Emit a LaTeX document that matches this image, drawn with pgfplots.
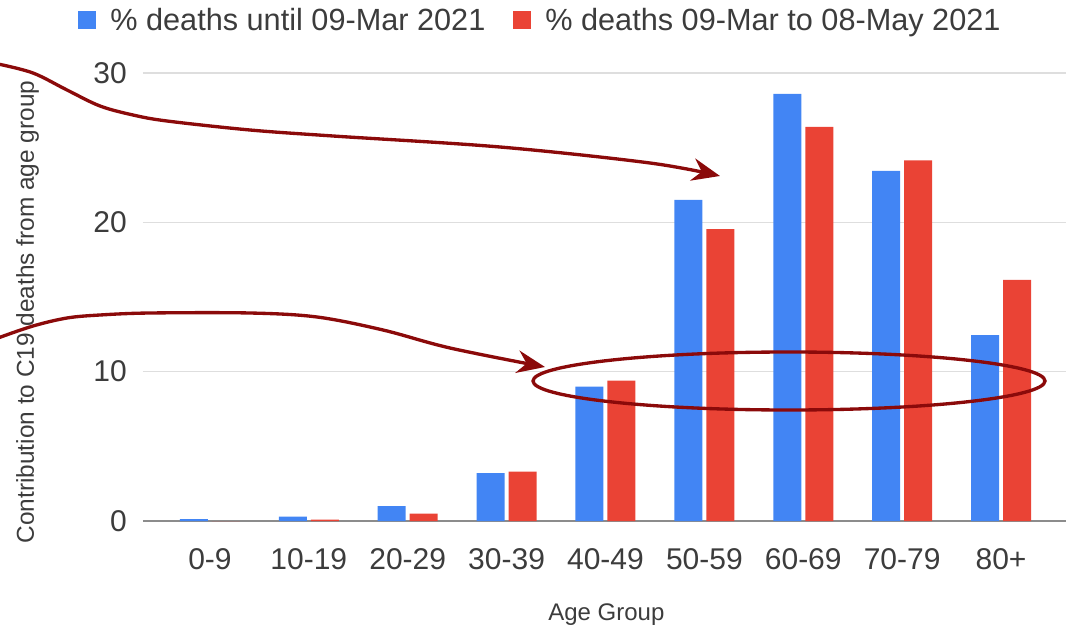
\documentclass[border=0pt]{standalone}
\usepackage{fontspec}
\setmainfont{Liberation Sans}
\usepackage{pgfplots}
\pgfplotsset{compat=1.18}
\usetikzlibrary{arrows.meta}
\definecolor{gblue}{HTML}{4285F4}
\definecolor{gred}{HTML}{EA4335}
\definecolor{txt}{HTML}{3C3C3C}
\definecolor{annot}{HTML}{8B0A0A}
\begin{document}
\begin{tikzpicture}
\begin{axis}[
    at={(0,0)}, anchor=south west,
    scale only axis,
    width=692.25pt, height=336pt,
    ybar=3pt, bar width=21pt,
    xmin=-0.677, xmax=8.657,
    ymin=0, ymax=30,
    xtick=data,
    xticklabels={0-9,10-19,20-29,30-39,40-49,50-59,60-69,70-79,80+},
    ytick={10,20,30},
    extra y ticks={0},
    extra y tick labels={0},
    extra y tick style={grid style={draw=black!45, line width=1.5pt}},
    ymajorgrids,
    grid style={draw=black!13, line width=1pt},
    axis line style={draw=none},
    tick style={draw=none},
    /pgf/number format/assume math mode=true,
    ticklabel style={font=\fontsize{22.5}{26}\selectfont, text=txt},
    yticklabel style={anchor=east, inner sep=0pt, xshift=-12pt},
    xticklabel style={anchor=north, inner sep=0pt, yshift=-16.5pt},
    xlabel={Age Group},
    ylabel={Contribution to C19 deaths from age group},
    xlabel style={font=\fontsize{18}{21}\selectfont, text=txt, at={(axis description cs:0.502,-0.21)}, anchor=center},
    ylabel style={font=\fontsize{18.3}{21}\selectfont, text=txt, at={(axis description cs:-0.125,0.4665)}, anchor=center},
    legend columns=-1,
    legend style={at={(0.4295,1.118)}, anchor=center, draw=none, fill=none, inner sep=0pt,
        font=\fontsize{23}{26}\selectfont, text=txt,
        nodes={inner sep=0pt, anchor=west},
        /tikz/every even column/.append style={column sep=21pt}},
    legend image code/.code={
        \fill[#1, draw=none] (0pt,-6.75pt) rectangle (13.5pt,6.75pt);
        \path (24pt,0pt);
    },
]
\addplot[fill=gblue, draw=none] coordinates {
    (0,0.13) (1,0.3) (2,1.0) (3,3.2) (4,9.0) (5,21.5) (6,28.6) (7,23.45) (8,12.45)};
\addplot[fill=gred, draw=none] coordinates {
    (0,0.0) (1,0.1) (2,0.5) (3,3.3) (4,9.4) (5,19.55) (6,26.4) (7,24.15) (8,16.15)};
\legend{\% deaths until 09-Mar 2021, \% deaths 09-Mar to 08-May 2021}
\end{axis}
% annotations, in pixel coordinates of the reference
\begin{scope}[shift={(-107.25pt,390.75pt)}, x=0.75pt, y=-0.75pt]
\draw[annot, line width=2.5pt, -{Stealth[length=21pt,width=17pt,inset=7pt]}]
    plot[smooth, tension=0.55] coordinates {(-2,64) (33,73) (67,90) (100,106) (133,115) (167,121) (250,130) (333,136) (500,147) (650,163) (720,176)};
\draw[annot, line width=2.5pt, -{Stealth[length=21pt,width=17pt,inset=7pt]}]
    plot[smooth, tension=0.55] coordinates {(-2,338) (33,326) (67,318) (100,315) (150,313) (250,313) (317,317) (383,330) (450,348) (545,367)};
\draw[annot, line width=2.5pt] (789,381) ellipse [x radius=192pt, y radius=21.75pt];
\pgfresetboundingbox
\path[use as bounding box] (0,0) rectangle (1067,629);
\end{scope}
\end{tikzpicture}
\end{document}
